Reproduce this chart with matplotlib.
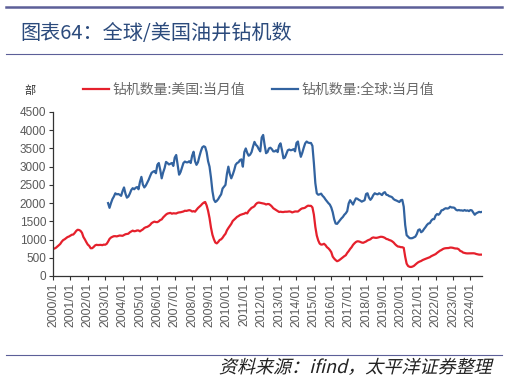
import matplotlib
matplotlib.use('Agg')
import matplotlib.pyplot as plt
import numpy as np
from matplotlib.lines import Line2D
from matplotlib.textpath import TextPath
from matplotlib.patches import PathPatch
from matplotlib.transforms import Affine2D
from matplotlib.font_manager import FontProperties

plt.rcParams['font.family'] = ['Noto Sans CJK SC', 'DejaVu Sans']

# monthly rig counts, US from 2000/01, global from 2003/03
us_rigs = [
    749, 753, 774, 807, 843, 880, 940, 985, 1007, 1039, 1068, 1083,      # 2000
    1109, 1132, 1138, 1182, 1236, 1269, 1262, 1239, 1186, 1069, 1004, 929,  # 2001
    862, 827, 762, 763, 795, 838, 856, 849, 852, 854, 846, 861,          # 2002
    858, 881, 943, 1017, 1055, 1076, 1092, 1093, 1087, 1100, 1111, 1106,  # 2003
    1103, 1126, 1146, 1152, 1161, 1199, 1223, 1245, 1228, 1234, 1250, 1249,  # 2004
    1225, 1254, 1278, 1317, 1337, 1348, 1370, 1401, 1450, 1474, 1492, 1480,  # 2005
    1478, 1501, 1536, 1553, 1607, 1648, 1686, 1713, 1722, 1732, 1709, 1721,  # 2006
    1719, 1715, 1735, 1745, 1749, 1761, 1770, 1791, 1786, 1795, 1807, 1796,  # 2007
    1769, 1780, 1765, 1816, 1864, 1899, 1936, 1980, 2013, 2031, 1937, 1790,  # 2008
    1590, 1327, 1132, 1010, 918, 895, 934, 988, 1006, 1049, 1110, 1158,   # 2009
    1252, 1316, 1371, 1430, 1509, 1545, 1584, 1623, 1644, 1673, 1688, 1700,  # 2010
    1711, 1735, 1717, 1785, 1827, 1869, 1889, 1915, 1973, 2005, 2016, 2008,  # 2011
    2003, 1990, 1982, 1962, 1975, 1973, 1946, 1908, 1859, 1834, 1809, 1784,  # 2012
    1757, 1764, 1756, 1755, 1764, 1763, 1766, 1773, 1765, 1744, 1757, 1771,  # 2013
    1769, 1769, 1803, 1835, 1857, 1861, 1876, 1908, 1930, 1925, 1925, 1882,  # 2014
    1683, 1348, 1110, 976, 889, 861, 866, 884, 848, 791, 760, 714,        # 2015
    654, 532, 478, 437, 406, 421, 449, 481, 510, 544, 569, 634,           # 2016
    683, 742, 789, 853, 897, 933, 952, 949, 936, 918, 911, 929,           # 2017
    947, 975, 990, 1008, 1043, 1058, 1050, 1046, 1053, 1065, 1076, 1075,  # 2018
    1064, 1046, 1017, 1008, 987, 975, 952, 920, 874, 837, 809, 804,       # 2019
    791, 790, 772, 529, 339, 274, 253, 247, 258, 277, 314, 347,           # 2020
    377, 397, 412, 437, 455, 470, 487, 501, 516, 544, 562, 579,           # 2021
    601, 635, 663, 694, 713, 740, 756, 763, 764, 768, 780, 779,           # 2022
    772, 760, 754, 753, 731, 687, 673, 642, 632, 623, 620, 622,           # 2023
    621, 623, 624, 619, 604, 596, 586, 585, 587,                          # 2024
]

global_rigs = [
    2000, 1870, 2000, 2110, 2180, 2270, 2240, 2250, 2230, 2200,           # 2003 (from Mar)
    2330, 2430, 2260, 2150, 2180, 2260, 2360, 2410, 2380, 2420, 2440, 2380,  # 2004
    2580, 2720, 2510, 2430, 2480, 2560, 2640, 2740, 2830, 2860, 2880, 2820,  # 2005
    3050, 3100, 2910, 2680, 2840, 2960, 3130, 3100, 3060, 3080, 3100, 3020,  # 2006
    3250, 3320, 3050, 2780, 2850, 2980, 3100, 3140, 3120, 3120, 3150, 3100,  # 2007
    3300, 3410, 3150, 3050, 3120, 3280, 3420, 3530, 3560, 3540, 3400, 3150,  # 2008
    3000, 2700, 2330, 2100, 2030, 2060, 2110, 2180, 2240, 2400, 2450, 2500,  # 2009
    2800, 3000, 2800, 2680, 2780, 2900, 3050, 3100, 3120, 3180, 3200, 3000,  # 2010
    3400, 3500, 3380, 3300, 3330, 3400, 3550, 3680, 3600, 3560, 3480, 3420,  # 2011
    3800, 3870, 3600, 3370, 3400, 3500, 3520, 3480, 3420, 3420, 3450, 3400,  # 2012
    3580, 3640, 3450, 3230, 3250, 3350, 3450, 3470, 3450, 3460, 3480, 3420,  # 2013
    3650, 3690, 3450, 3270, 3380, 3520, 3640, 3690, 3660, 3650, 3650, 3570,  # 2014
    3100, 2550, 2270, 2230, 2240, 2260, 2200, 2160, 2100, 2050, 2000, 1960,  # 2015
    1880, 1750, 1560, 1440, 1430, 1480, 1530, 1580, 1620, 1680, 1720, 1780,  # 2016
    1990, 2080, 2020, 1960, 2050, 2130, 2120, 2090, 2070, 2040, 2060, 2080,  # 2017
    2250, 2270, 2150, 2090, 2140, 2220, 2270, 2250, 2240, 2270, 2250, 2220,  # 2018
    2280, 2300, 2230, 2220, 2190, 2180, 2160, 2110, 2085, 2070, 2050, 2030,  # 2019
    2080, 2090, 1900, 1400, 1120, 1080, 1040, 1035, 1040, 1060, 1080, 1150,  # 2020
    1260, 1280, 1200, 1230, 1290, 1340, 1400, 1440, 1450, 1520, 1560, 1560,  # 2021
    1660, 1700, 1680, 1720, 1800, 1810, 1840, 1860, 1850, 1860, 1900, 1880,  # 2022
    1880, 1870, 1820, 1800, 1810, 1800, 1800, 1790, 1810, 1790, 1800, 1780,  # 2023
    1810, 1800, 1740, 1680, 1720, 1740, 1760, 1750, 1760,                 # 2024
]

start_year = 2000
global_start_month = 38   # 2003/03
years = list(range(2000, 2025))
tick_labels = [f'{y}/01' for y in years]
y_ticks = [0, 500, 1000, 1500, 2000, 2500, 3000, 3500, 4000, 4500]

title = '图表64：全球/美国油井钻机数'
source = '资料来源：ifind，太平洋证券整理'
label_us = '钻机数量:美国:当月值'
label_global = '钻机数量:全球:当月值'

RED = '#e5202c'
BLUE = '#3263a0'
GRAY = '#595959'
RULE = '#5c5f98'

fig = plt.figure(figsize=(5.07, 3.82), dpi=100)
W, H = 507, 382
ax = fig.add_axes([53 / W, 1 - 276 / H, (482 - 53) / W, (276 - 112) / H])

x_us = np.arange(len(us_rigs))
x_gl = np.arange(len(global_rigs)) + global_start_month
ax.plot(x_us, us_rigs, color=RED, lw=1.6, label=label_us)
ax.plot(x_gl, global_rigs, color=BLUE, lw=1.6, label=label_global)

ax.set_xlim(0, len(us_rigs) - 1)
ax.set_ylim(0, 4500)
ax.set_xticks([12 * i for i in range(len(years))])
ax.set_xticklabels(tick_labels, rotation=90, fontsize=8.8, color=GRAY,
                   family=['Liberation Sans', 'DejaVu Sans'])
ax.set_yticks(y_ticks)
ax.set_yticklabels([str(v) for v in y_ticks], fontsize=8.5, color=GRAY,
                   family=['Liberation Sans', 'DejaVu Sans'])
ax.tick_params(axis='both', direction='out', length=3, width=0.8, color='#333333', pad=2)
for side in ['top', 'right']:
    ax.spines[side].set_visible(False)
for side in ['left', 'bottom']:
    ax.spines[side].set_color('#333333')
    ax.spines[side].set_linewidth(0.9)
ax.patch.set_alpha(0)

leg = ax.legend(loc='lower left', bbox_to_anchor=(83 / W, 1 - 97 / H), bbox_transform=fig.transFigure,
                ncol=2, frameon=False, fontsize=10, handlelength=1.9, handletextpad=0.25,
                columnspacing=1.9, borderaxespad=0, borderpad=0)
for t in leg.get_texts():
    t.set_color('#6a6a6a')

fig.text(30 / W, 1 - 91 / H, '部', fontsize=8, color='#333333', ha='center', va='center')

# rules and title
fig.add_artist(Line2D([6 / W, 502 / W], [1 - 7 / H] * 2, color=RULE, lw=1.8))
fig.add_artist(Line2D([6 / W, 502 / W], [1 - 53.5 / H] * 2, color=RULE, lw=0.8))
fig.add_artist(Line2D([6 / W, 502 / W], [1 - 354.5 / H] * 2, color=RULE, lw=0.8))
fig.text(20 / W, 1 - 33 / H, title, fontsize=14.5, color='#2b4a7c', va='center', ha='left',
         weight='light')

# italic source line (skewed glyph paths)
fp = FontProperties(family='Noto Sans CJK SC', size=13)
tp = TextPath((0, 0), source, prop=fp)
ext = tp.get_extents()
sc = fig.dpi / 72
tr = Affine2D().translate(-ext.x1, 0).scale(sc).skew_deg(14, 0).translate(491, H - 373)
fig.add_artist(PathPatch(tp, transform=tr, facecolor='#222222', edgecolor='none'))

fig.savefig('out.png', dpi=100)
